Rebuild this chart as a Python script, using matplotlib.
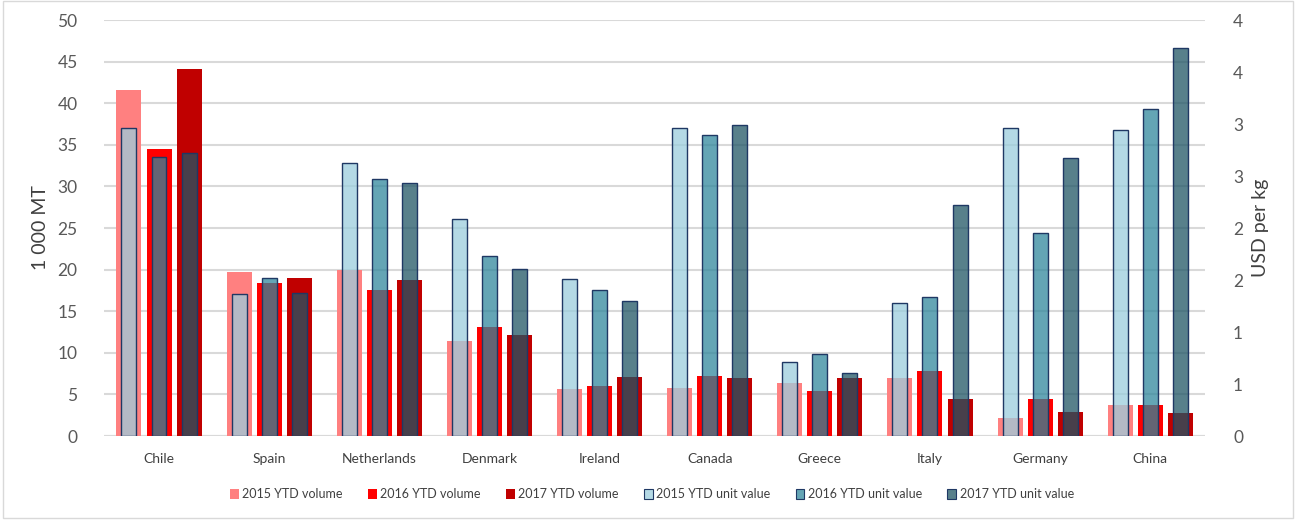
import numpy as np
import matplotlib
matplotlib.use("Agg")
import matplotlib.pyplot as plt
from matplotlib.patches import Patch, Rectangle
from matplotlib.ticker import FuncFormatter, MultipleLocator

plt.rcParams['font.family'] = ['Lato', 'DejaVu Sans']

countries = ["Chile", "Spain", "Netherlands", "Denmark", "Ireland",
             "Canada", "Greece", "Italy", "Germany", "China"]

vol_2015 = [41.6, 19.7, 19.95, 11.4, 5.65, 5.8, 6.4, 6.93, 2.15, 3.76]
vol_2016 = [34.5, 18.4, 17.55, 13.07, 6.0, 7.2, 5.37, 7.78, 4.45, 3.7]
vol_2017 = [44.1, 18.95, 18.75, 12.2, 7.13, 6.93, 6.93, 4.41, 2.9, 2.76]

uv_2015 = [2.96, 1.37, 2.63, 2.087, 1.51, 2.96, 0.715, 1.28, 2.96, 2.94]
uv_2016 = [2.68, 1.52, 2.47, 1.73, 1.40, 2.89, 0.79, 1.34, 1.95, 3.14]
uv_2017 = [2.72, 1.38, 2.43, 1.61, 1.30, 2.99, 0.61, 2.22, 2.67, 3.73]

vol_labels = ["2015 YTD volume", "2016 YTD volume", "2017 YTD volume"]
uv_labels = ["2015 YTD unit value", "2016 YTD unit value", "2017 YTD unit value"]

vol_colors = ["#FF8080", "#FF0000", "#C00000"]
uv_colors = [(155/255, 205/255, 221/255, 0.75),
             (48/255, 135/255, 156/255, 0.75),
             (32/255, 85/255, 101/255, 0.75)]
edge = "#1F3864"

fig = plt.figure(figsize=(12.96, 5.2), dpi=100)
fig.patches.append(Rectangle((0.002, 0.004), 0.996, 0.994, transform=fig.transFigure,
                             fill=False, edgecolor="#D9D9D9", linewidth=1))
ax = fig.add_axes([0.0802, 0.1615, 0.8498, 0.8])
ax2 = ax.twinx()

x = np.arange(len(countries))
off = 0.273
wv = 0.227
wu = 0.136

for i, (vals, c) in enumerate(zip([vol_2015, vol_2016, vol_2017], vol_colors)):
    ax.bar(x + (i - 1) * off, vals, width=wv, color=c, zorder=2)
for i, (vals, c) in enumerate(zip([uv_2015, uv_2016, uv_2017], uv_colors)):
    ax2.bar(x + (i - 1) * off, vals, width=wu, facecolor=c, edgecolor=edge,
            linewidth=1.0, zorder=2)

ax.set_xlim(-0.5, len(countries) - 0.5)
ax.set_ylim(0, 50)
ax2.set_ylim(0, 4)
ax.yaxis.set_major_locator(MultipleLocator(5))
ax2.yaxis.set_major_locator(MultipleLocator(0.5))
ax2.yaxis.set_major_formatter(FuncFormatter(lambda v, p: f"{int(np.floor(v + 0.5))}"))

ax.grid(axis="y", color="#D9D9D9", linewidth=1.5, zorder=0)
ax.set_axisbelow(True)
for a in (ax, ax2):
    for s in a.spines.values():
        s.set_visible(False)
    a.tick_params(length=0)
ax.axhline(0, color="#D9D9D9", linewidth=1.5, zorder=1)

ax.set_xticks(x)
ax.set_xticklabels(countries, fontsize=10, color="#404040")
ax.tick_params(axis="x", pad=12)
ax.tick_params(axis="y", labelsize=12.5, labelcolor="#595959", pad=19)
ax2.tick_params(axis="y", labelsize=12.5, labelcolor="#595959", pad=20)

ax.set_ylabel("1 000 MT", fontsize=14, color="#404040", labelpad=6)
ax2.set_ylabel("USD per kg", fontsize=14, color="#404040", labelpad=6)

handles = [Patch(facecolor=c, edgecolor="none", label=l) for c, l in zip(vol_colors, vol_labels)]
handles += [Patch(facecolor=c, edgecolor=edge, linewidth=0.8, label=l) for c, l in zip(uv_colors, uv_labels)]
fig.legend(handles=handles, loc="center", bbox_to_anchor=(0.503, 0.05), ncol=6,
           frameon=False, fontsize=9, handlelength=0.7, handleheight=0.9,
           handletextpad=0.3, columnspacing=2.0, labelcolor="#404040")

fig.savefig("out.png", dpi=100)
